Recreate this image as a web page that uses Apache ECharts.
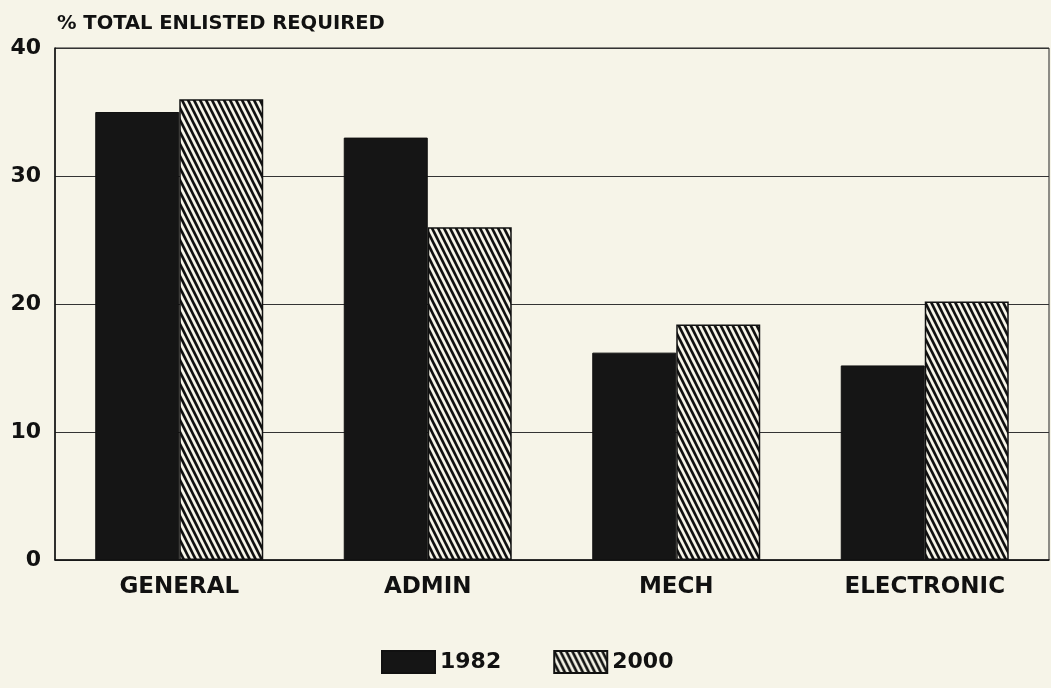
<!DOCTYPE html>
<html lang="en">
<head>
    <meta charset="UTF-8">
    <title>% Total Enlisted Required</title>
    <script src="https://cdn.jsdelivr.net/npm/echarts@6/dist/echarts.min.js"></script>
    <style>
        html, body { margin: 0; padding: 0; background: #f6f4e8; }
    </style>
</head>
<body>
<div id="main" style="width: 1051px;height: 688px"></div>
<script>
    // data
    var categories = ['GENERAL', 'ADMIN', 'MECH', 'ELECTRONIC'];
    var values1982 = [35, 33, 16.2, 15.2];
    var values2000 = [36, 26, 18.4, 20.2];
    var seriesNames = ['1982', '2000'];

    var paper = '#f6f4e8';

    // steep "\" hatch for the 2000 bars
    function makeHatch() {
        var w = 6, h = 12;
        var c = document.createElement('canvas');
        c.width = w;
        c.height = h;
        var ctx = c.getContext('2d');
        ctx.fillStyle = paper;
        ctx.fillRect(0, 0, w, h);
        ctx.strokeStyle = '#111';
        ctx.lineWidth = 2.6;
        for (var k = -1; k <= 1; k++) {
            ctx.beginPath();
            ctx.moveTo(k * w - 1, -2);
            ctx.lineTo(k * w + w + 1, h + 2);
            ctx.stroke();
        }
        return c;
    }

    var font = '"DejaVu Sans", "Liberation Sans", sans-serif';
    var chart = echarts.init(document.getElementById('main'));
    chart.setOption({
        backgroundColor: paper,
        animation: false,
        title: {
            text: '% TOTAL ENLISTED REQUIRED',
            left: 52,
            top: 9,
            textStyle: { fontFamily: font, fontWeight: 'bold', fontSize: 19.5, color: '#111' }
        },
        legend: {
            bottom: 9,
            left: 376,
            icon: 'rect',
            itemWidth: 53,
            itemHeight: 22,
            itemGap: 52,
            textStyle: { fontFamily: font, fontWeight: 'bold', fontSize: 22, color: '#111' },
            data: seriesNames
        },
        grid: {
            left: 55,
            right: 2,
            top: 48,
            bottom: 128,
            show: true,
            borderColor: '#222',
            borderWidth: 1
        },
        xAxis: {
            type: 'category',
            data: categories,
            axisTick: { show: false },
            axisLine: { lineStyle: { color: '#111', width: 1.5 } },
            axisLabel: {
                fontFamily: font, fontWeight: 'bold', fontSize: 23, color: '#111', margin: 16
            }
        },
        yAxis: {
            type: 'value',
            min: 0,
            max: 40,
            interval: 10,
            axisLine: { show: true, lineStyle: { color: '#111', width: 1.5 } },
            axisTick: { show: false },
            splitLine: { lineStyle: { color: '#333', width: 1 } },
            axisLabel: {
                fontFamily: font, fontWeight: 'bold', fontSize: 22, color: '#111', margin: 14
            }
        },
        series: [
            {
                name: seriesNames[0],
                type: 'bar',
                data: values1982,
                barGap: '0%',
                barCategoryGap: '32.4%',
                itemStyle: { color: '#151515', borderColor: '#111', borderWidth: 1 }
            },
            {
                name: seriesNames[1],
                type: 'bar',
                data: values2000,
                itemStyle: {
                    color: { image: makeHatch(), repeat: 'repeat' },
                    borderColor: '#111',
                    borderWidth: 1.5
                }
            }
        ]
    });
</script>
</body>
</html>
